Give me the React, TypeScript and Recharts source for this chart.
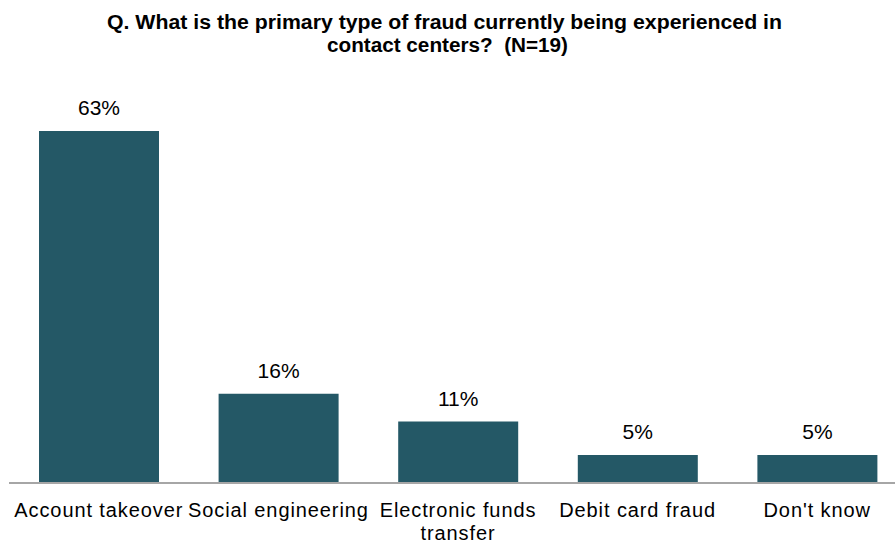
import React from 'react';
import { BarChart, Bar, XAxis, YAxis, LabelList } from 'recharts';

const categories = [
  'Account takeover',
  'Social engineering',
  'Electronic funds transfer',
  'Debit card fraud',
  "Don't know",
];
const shares = [63, 16, 11, 5, 5];
const yDomain: [number, number] = [0, 70];

const TITLE_1 = 'Q. What is the primary type of fraud currently being experienced in';
const TITLE_2 = 'contact centers?  (N=19)';

const BAR_COLOR = '#245866';
const FONT = "'Liberation Sans', Arial, sans-serif";

const data = categories.map((name, i) => ({ name, value: shares[i] }));

// splits long labels into two lines at the last space
const splitLabel = (s: string): string[] => {
  if (s.length <= 20) return [s];
  const i = s.lastIndexOf(' ');
  return [s.slice(0, i), s.slice(i + 1)];
};

const CategoryTick = (props: any) => {
  const { x, y, payload } = props;
  const lines = splitLabel(String(payload.value));
  return (
    <text
      x={x}
      y={y}
      textAnchor="middle"
      fill="#000"
      fontSize={20}
      fontFamily={FONT}
      style={{ letterSpacing: '0.9px' }}
    >
      {lines.map((l, i) => (
        <tspan key={i} x={x} dy={i === 0 ? 34 : 23}>
          {l}
        </tspan>
      ))}
    </text>
  );
};

export default function App() {
  return (
    <div
      style={{
        position: 'absolute',
        left: 0,
        top: 0,
        width: 895,
        height: 542,
        overflow: 'hidden',
        background: '#fff',
      }}
    >
      <svg
        width={895}
        height={60}
        style={{ position: 'absolute', left: 0, top: 0 }}
      >
        <text
          x={107}
          y={29}
          fontSize={20}
          fontWeight="bold"
          fontFamily={FONT}
          textLength={675}
          lengthAdjust="spacingAndGlyphs"
        >
          {TITLE_1}
        </text>
        <text
          x={327}
          y={52}
          fontSize={20}
          fontWeight="bold"
          fontFamily={FONT}
          textLength={241}
          lengthAdjust="spacingAndGlyphs"
          style={{ whiteSpace: 'pre' }}
        >
          {TITLE_2}
        </text>
      </svg>
      <div style={{ position: 'absolute', left: 0, top: 0 }}>
        <BarChart
          width={907}
          height={542}
          data={data}
          margin={{ top: 92, right: 0, bottom: 0, left: 9 }}
        >
          <XAxis
            dataKey="name"
            height={59}
            axisLine={{ stroke: '#a6a6a6', strokeWidth: 2 }}
            tickLine={false}
            tickSize={0}
            tickMargin={0}
            interval={0}
            tick={<CategoryTick />}
          />
          <YAxis hide domain={yDomain} />
          <Bar dataKey="value" fill={BAR_COLOR} barSize={120} isAnimationActive={false}>
            <LabelList
              dataKey="value"
              position="top"
              offset={16}
              formatter={(v: any) => `${v}%`}
              fill="#000"
              fontSize={21}
              fontFamily={FONT}
            />
          </Bar>
        </BarChart>
      </div>
    </div>
  );
}
